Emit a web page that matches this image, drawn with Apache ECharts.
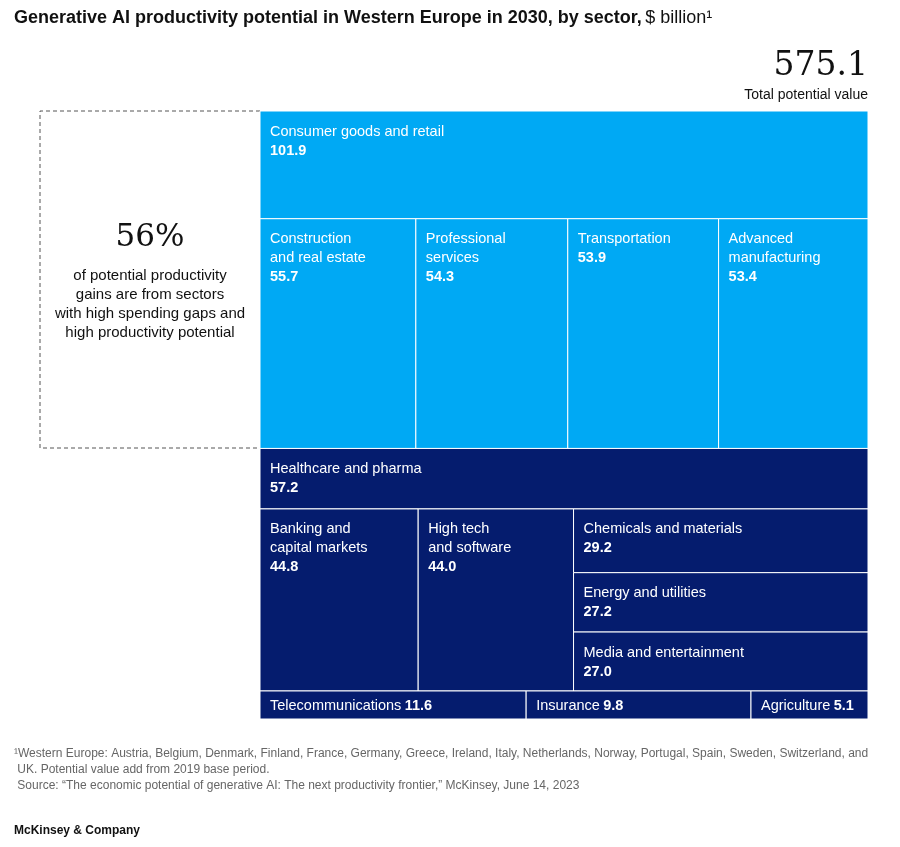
<!DOCTYPE html>
<html>
<head>
<meta charset="utf-8">
<script src="https://cdn.jsdelivr.net/npm/echarts@6/dist/echarts.min.js"></script>
<style>
  html, body { margin: 0; padding: 0; background: #fff; }
  #chart { width: 900px; height: 847px; }
</style>
</head>
<body>
<div id="chart"></div>
<script>
const sectors = [
  "Consumer goods and retail", "Construction\nand real estate", "Professional\nservices",
  "Transportation", "Advanced\nmanufacturing", "Healthcare and pharma",
  "Banking and\ncapital markets", "High tech\nand software", "Chemicals and materials",
  "Energy and utilities", "Media and entertainment", "Telecommunications",
  "Insurance", "Agriculture",
];
const values = [101.9, 55.7, 54.3, 53.9, 53.4, 57.2, 44.8, 44.0, 29.2, 27.2, 27.0, 11.6, 9.8, 5.1];
const highGap = [true, true, true, true, true, false, false, false, false, false, false, false, false, false];
const inlineLabel = [false, false, false, false, false, false, false, false, false, false, false, true, true, true];

// slice-and-dice structure: v = stack top to bottom, h = side by side
const tree = {
  dir: "v", children: [
    { dir: "v", children: [0, { dir: "h", children: [1, 2, 3, 4] }] },
    { dir: "v", children: [5, { dir: "h", children: [6, 7, { dir: "v", children: [8, 9, 10] }] }, { dir: "h", children: [11, 12, 13] }] },
  ],
};

const total = (node) => typeof node === "number" ? values[node] : node.children.reduce((s, c) => s + total(c), 0);

const rects = [];
const layout = (node, x, y, w, h) => {
  if (typeof node === "number") {
    rects.push([x, y, x + w, y + h, node]);
    return;
  }
  const sum = total(node);
  let pos = 0;
  for (const c of node.children) {
    const f = total(c) / sum;
    if (node.dir === "v") layout(c, x, y + pos * h, w, f * h);
    else layout(c, x + pos * w, y, f * w, h);
    pos += f;
  }
};
layout(tree, 0, 0, 1, 1);

const grandTotal = values.reduce((a, b) => a + b, 0);
const highShare = Math.round(values.filter((v, i) => highGap[i]).reduce((a, b) => a + b, 0) / grandTotal * 100);

const chart = echarts.init(document.getElementById("chart"));
const FONT = "Liberation Sans, Arial, sans-serif";

const option = {
  animation: false,
  textStyle: { fontFamily: FONT },
  grid: { left: 260, right: 32, top: 111, bottom: 128 },
  xAxis: { type: "value", min: 0, max: 1, show: false },
  yAxis: { type: "value", min: 0, max: 1, inverse: true, show: false },
  graphic: [
    { type: "text", left: 14, top: 9, style: { text: "{b|Generative AI productivity potential in Western Europe in 2030, by sector,} {n|$ billion¹}",
      rich: { b: { fontSize: 18, fontWeight: "bold", fill: "#111", fontFamily: FONT }, n: { fontSize: 18, fill: "#111", fontFamily: FONT } } } },
    { type: "text", right: 32, top: 50, style: { text: grandTotal.toFixed(1), font: "33px 'DejaVu Serif', serif", fill: "#111" } },
    { type: "text", right: 32, top: 88, style: { text: "Total potential value", font: "14px " + FONT, fill: "#111" } },
    { type: "polyline", shape: { points: [[260, 111], [40, 111], [40, 448], [260, 448]] }, style: { stroke: "#555", lineWidth: 1, lineDash: [4, 3], fill: null } },
    { type: "text", x: 150, y: 222, style: { text: highShare + "%", font: "31px 'DejaVu Serif', serif", fill: "#111", align: "center" } },
    { type: "text", x: 150, y: 266, style: { text: "of potential productivity\ngains are from sectors\nwith high spending gaps and\nhigh productivity potential",
      font: "15px " + FONT, lineHeight: 19, fill: "#111", align: "center" } },
    { type: "text", left: 14, top: 746, style: { text: "¹Western Europe: Austria, Belgium, Denmark, Finland, France, Germany, Greece, Ireland, Italy, Netherlands, Norway, Portugal, Spain, Sweden, Switzerland, and\n UK. Potential value add from 2019 base period.\n Source: “The economic potential of generative AI: The next productivity frontier,” McKinsey, June 14, 2023",
      font: "12px " + FONT, lineHeight: 16, fill: "#666" } },
    { type: "text", left: 14, top: 825, style: { text: "McKinsey & Company", font: "bold 12px " + FONT, fill: "#111" } },
  ],
  series: [{
    type: "custom",
    data: rects,
    renderItem: (params, api) => {
      const p0 = api.coord([api.value(0), api.value(1)]);
      const p1 = api.coord([api.value(2), api.value(3)]);
      const i = api.value(4);
      const fill = highGap[i] ? "#00A9F4" : "#051C6E";
      const rich = {
        n: { fontSize: 14.5, fill: "#fff", fontFamily: FONT, lineHeight: 19 },
        b: { fontSize: 14.5, fontWeight: "bold", fill: "#fff", fontFamily: FONT, lineHeight: 19 },
      };
      const name = sectors[i].split("\n").map((s) => "{n|" + s + "}").join("\n");
      const text = inlineLabel[i]
        ? "{n|" + sectors[i] + "} {b|" + values[i].toFixed(1) + "}"
        : name + "\n{b|" + values[i].toFixed(1) + "}";
      return {
        type: "group",
        children: [
          { type: "rect", shape: { x: p0[0], y: p0[1], width: p1[0] - p0[0], height: p1[1] - p0[1] },
            style: { fill: fill, stroke: "#fff", lineWidth: 1 } },
          { type: "text", style: {
              x: p0[0] + 10,
              y: inlineLabel[i] ? (p0[1] + p1[1]) / 2 + 1 : p0[1] + 11,
              verticalAlign: inlineLabel[i] ? "middle" : "top",
              text: text, rich: rich } },
        ],
      };
    },
  }],
};

chart.setOption(option);
</script>
</body>
</html>
